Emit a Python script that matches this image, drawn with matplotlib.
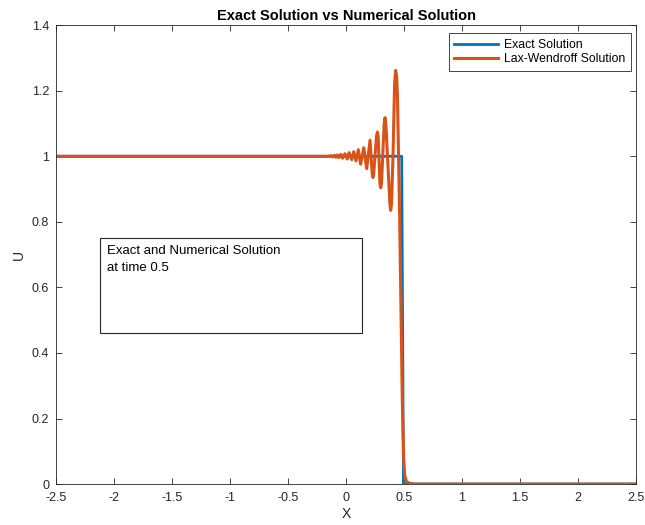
import numpy as np
import matplotlib.pyplot as plt
from matplotlib.patches import Rectangle

plt.rcParams['font.family'] = ['Liberation Sans', 'DejaVu Sans']

# exact solution (step)
x_exact = [-2.5, 0.48, 0.495, 2.5]
u_exact = [1.0, 1.0, 0.0, 0.0]

# Lax-Wendroff solution
x_lw = [-2.5, -0.2, -0.16, -0.13, -0.115, -0.1, -0.087, -0.075, -0.062, -0.045,
        -0.03, -0.01, 0.011, 0.026, 0.049, 0.066, 0.086, 0.106, 0.126, 0.153,
        0.178, 0.207, 0.226, 0.232, 0.238,
        0.263, 0.27, 0.277, 0.292, 0.299, 0.306,
        0.328, 0.336, 0.344, 0.378, 0.385, 0.392,
        0.405, 0.419, 0.428, 0.436, 0.443, 0.462, 0.485, 0.497, 0.505, 0.52,
        0.55, 0.6, 2.5]
u_lw = [1.0, 1.0, 1.0, 1.002, 0.998, 1.003, 0.997, 1.004, 0.996, 1.006,
        0.994, 1.008, 0.992, 1.011, 0.99, 1.014, 0.986, 1.02, 0.976, 1.026,
        0.962, 1.049, 0.945, 0.935, 0.945,
        1.062, 1.074, 1.062, 0.918, 0.904, 0.918,
        1.095, 1.118, 1.095, 0.855, 0.835, 0.855,
        1.0, 1.225, 1.262, 1.245, 1.19, 0.82, 0.256, 0.08, 0.03, 0.008,
        0.002, 0.0, 0.0]

fig = plt.figure(figsize=(6.45, 5.25), dpi=100)
ax = fig.add_axes([0.087, 0.078, 0.899, 0.874])

ax.plot(x_exact, u_exact, color='#0072BD', lw=2, label='Exact Solution')
ax.plot(x_lw, u_lw, color='#D95319', lw=2.2, label='Lax-Wendroff Solution')

ax.set_xlim(-2.5, 2.5)
ax.set_ylim(0, 1.4)
ax.set_xticks(np.arange(-2.5, 2.51, 0.5))
ax.set_xticklabels(['-2.5', '-2', '-1.5', '-1', '-0.5', '0', '0.5', '1', '1.5', '2', '2.5'])
ax.set_yticks(np.arange(0, 1.41, 0.2))
ax.set_yticklabels(['0', '0.2', '0.4', '0.6', '0.8', '1', '1.2', '1.4'])
ax.tick_params(direction='in', top=True, right=True, length=4, width=0.6,
               labelsize=9, colors='#262626')
ax.tick_params(axis='x', pad=6)
ax.tick_params(axis='y', pad=5)
for s in ax.spines.values():
    s.set_color('#262626')
    s.set_linewidth(0.6)

ax.set_xlabel('X', fontsize=10, color='#262626', labelpad=2)
ax.set_ylabel('U', fontsize=10, color='#262626', labelpad=4)
ax.set_title('Exact Solution vs Numerical Solution', fontsize=10.5,
             fontweight='bold', pad=4)

leg = ax.legend(loc='upper right', fontsize=8.8, fancybox=False,
                edgecolor='#262626', framealpha=1, handlelength=3.6,
                handletextpad=0.5, borderpad=0.45, labelspacing=0.2,
                borderaxespad=0.3, bbox_to_anchor=(0.998, 0.99))
leg.get_frame().set_linewidth(0.6)

# annotation box
ax.add_patch(Rectangle((-2.121, 0.46), 2.259, 0.29, fill=False,
                       edgecolor='#262626', lw=0.8))
ax.text(-2.06, 0.728, 'Exact and Numerical Solution\nat time 0.5',
        fontsize=9.5, va='top', ha='left', linespacing=1.5)

fig.savefig('out.png', dpi=100)
